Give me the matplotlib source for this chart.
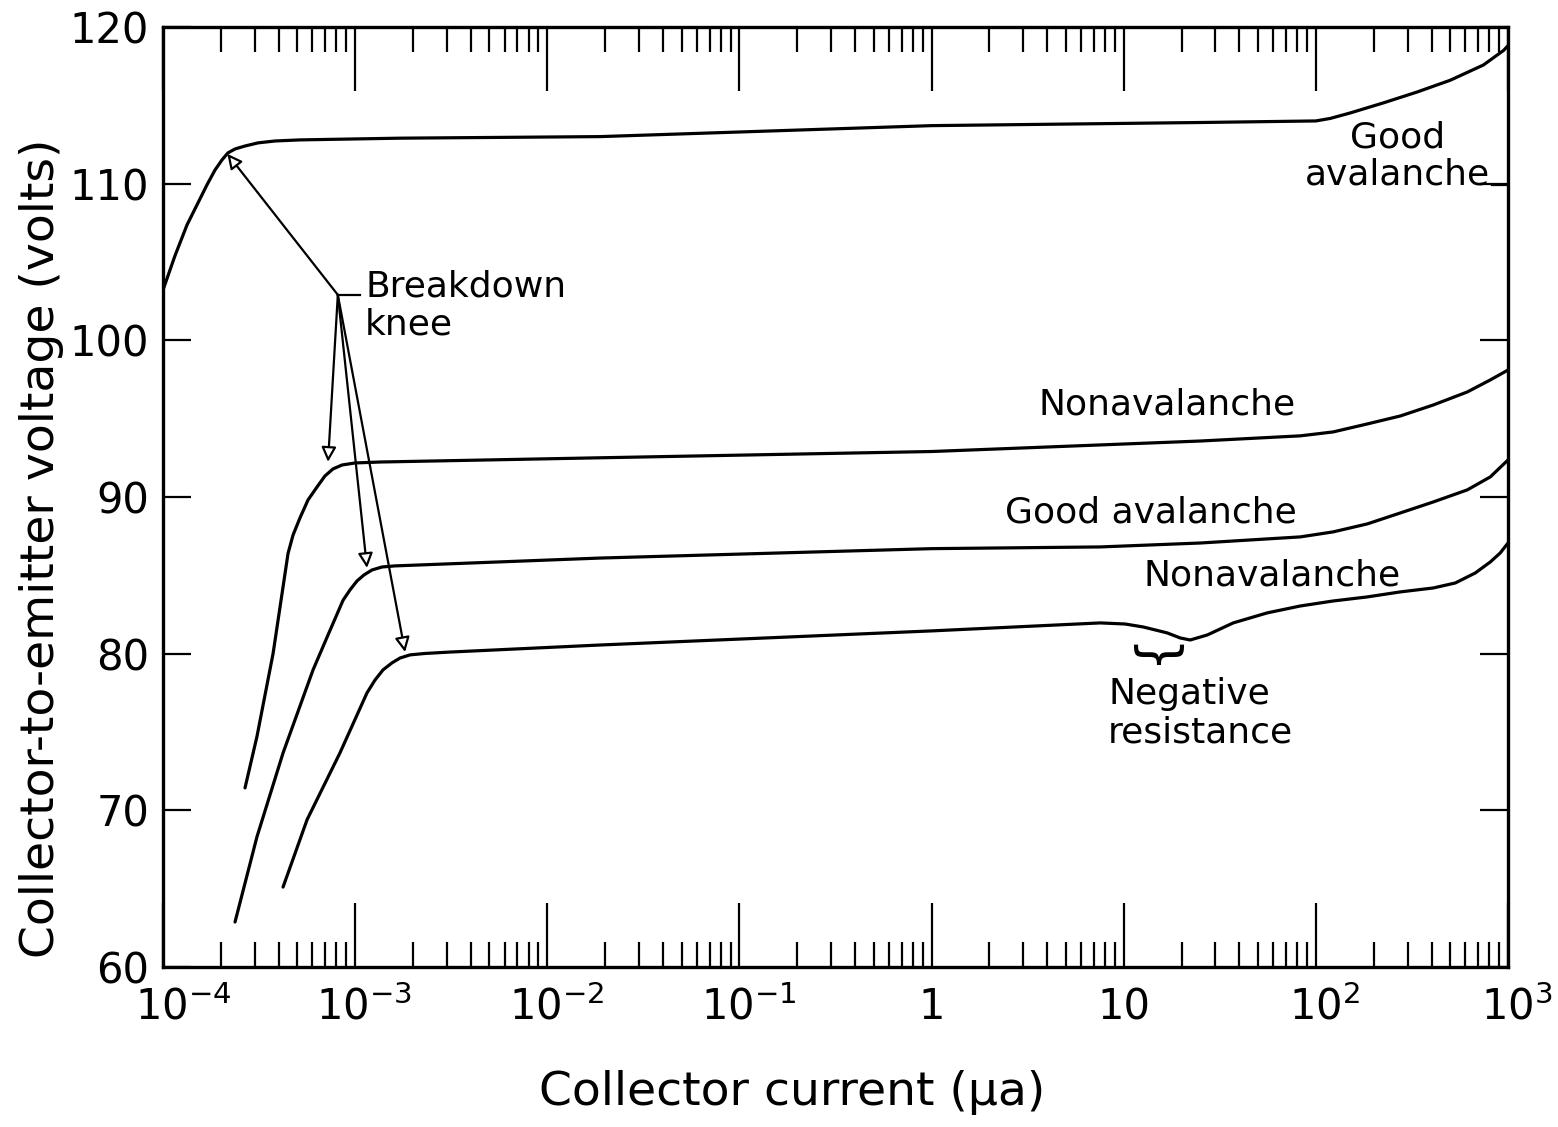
import numpy as np
import matplotlib
matplotlib.use("Agg")
import matplotlib.pyplot as plt
from matplotlib.transforms import ScaledTranslation

plt.rcParams['font.family'] = ['DejaVu Sans']
plt.rcParams['mathtext.default'] = 'regular'

# curves: log10(collector current, uA) and volts
good_top_logi = [-4.0, -3.938, -3.875, -3.823, -3.771, -3.729, -3.693, -3.662, -3.625, -3.573,
                 -3.505, -3.417, -3.287, -2.766, -1.725, 0.0, 1.398, 2.0, 2.075, 2.179,
                 2.351, 2.528, 2.70, 2.872, 2.977, 3.0]
good_top_v = [103.2, 105.38, 107.36, 108.64, 109.92, 110.87, 111.51, 111.96, 112.21, 112.4,
              112.6, 112.72, 112.79, 112.9, 113.0, 113.7, 113.9, 114.0, 114.16, 114.51,
              115.15, 115.85, 116.6, 117.57, 118.5, 118.8]

nonav_hi_logi = [-3.573, -3.511, -3.427, -3.349, -3.323, -3.287, -3.245, -3.198, -3.157, -3.115,
                 -3.068, -3.0, -2.87, -1.725, 0.0, 0.878, 1.398, 1.919, 2.09, 2.268,
                 2.44, 2.611, 2.788, 2.908, 3.0]
nonav_hi_v = [71.43, 74.7, 80.0, 86.4, 87.57, 88.66, 89.81, 90.64, 91.34, 91.79,
              92.04, 92.17, 92.23, 92.5, 92.9, 93.32, 93.57, 93.9, 94.15, 94.66,
              95.17, 95.87, 96.7, 97.47, 98.1]

good_mid_logi = [-3.625, -3.511, -3.375, -3.219, -3.141, -3.063, -3.027, -2.99, -2.954, -2.912,
                 -2.86, -2.792, -2.662, -1.725, 0.0, 0.878, 1.398, 1.919, 2.09, 2.268,
                 2.44, 2.611, 2.788, 2.908, 3.0]
good_mid_v = [62.87, 68.3, 73.66, 78.96, 81.19, 83.4, 84.06, 84.64, 85.02, 85.34,
              85.53, 85.6, 85.66, 86.1, 86.7, 86.81, 87.06, 87.45, 87.77, 88.28,
              88.98, 89.68, 90.45, 91.28, 92.36]

nonav_lo_logi = [-3.375, -3.25, -3.079, -2.938, -2.896, -2.855, -2.808, -2.766, -2.714, -2.636,
                 -2.506, -1.725, 0.0, 0.878, 1.008, 1.102, 1.227, 1.294, 1.346, 1.435,
                 1.57, 1.747, 1.919, 2.09, 2.268, 2.44, 2.611, 2.726, 2.83, 2.908,
                 2.96, 3.0]
nonav_lo_v = [65.1, 69.4, 73.66, 77.5, 78.32, 78.96, 79.41, 79.72, 79.92, 80.01,
              80.1, 80.55, 81.45, 81.96, 81.89, 81.7, 81.32, 81.0, 80.87, 81.19,
              81.96, 82.6, 83.04, 83.36, 83.62, 83.94, 84.19, 84.51, 85.15, 85.85,
              86.43, 87.06]

# breakdown knee pointers (log10 current, volts)
knee_from = (-3.09, 102.9)
knee_tips_logi = [-3.665, -3.141, -2.938, -2.74]
knee_tips_v = [111.9, 92.24, 85.47, 80.1]

yticks = [60, 70, 80, 90, 100, 110, 120]
xtick_exp = [-4, -3, -2, -1, 0, 1, 2, 3]
xtick_labels = ['$10^{-4}$', '$10^{-3}$', '$10^{-2}$', '$10^{-1}$', '1', '10', '$10^{2}$', '$10^{3}$']

fig = plt.figure(figsize=(15.58, 11.27), dpi=100)
ax = fig.add_axes([0.1046, 0.142, 0.8633, 0.8341])

for lx, v in [(good_top_logi, good_top_v), (nonav_hi_logi, nonav_hi_v),
              (good_mid_logi, good_mid_v), (nonav_lo_logi, nonav_lo_v)]:
    ax.plot(10.0 ** np.array(lx), v, color='black', lw=2.3,
            solid_capstyle='round', solid_joinstyle='round')

ax.set_xscale('log')
ax.set_xlim(1e-4, 1e3)
ax.set_ylim(60, 120)

ax.set_xticks([10.0 ** e for e in xtick_exp], xtick_labels)
ax.set_yticks(yticks)
ax.tick_params(axis='x', which='major', direction='in', top=True, bottom=True,
               length=46, width=1.6, labelsize=30, pad=14)
ax.tick_params(axis='x', which='minor', direction='in', top=True, bottom=True,
               length=18, width=1.6)
ax.tick_params(axis='y', which='major', direction='in', left=True, right=True,
               length=20, width=1.6, labelsize=30, pad=10)
for s in ax.spines.values():
    s.set_linewidth(2.4)

# powers of ten sit a bit right of their ticks, as in the original lettering
for lab, txt in zip(ax.get_xticklabels(), xtick_labels):
    if txt.startswith('$'):
        dx = 20 if txt == '$10^{-4}$' else 9
        lab.set_transform(lab.get_transform() + ScaledTranslation(dx / 100, 0, fig.dpi_scale_trans))

ax.set_xlabel('Collector current (μa)', fontsize=34)
ax.xaxis.label.set_va('center')
ax.xaxis.set_label_coords(0.468, -0.134)
ax.set_ylabel('Collector-to-emitter voltage (volts)', fontsize=34)
ax.yaxis.label.set_va('center')
ax.yaxis.set_label_coords(-0.09, 0.445)

fs = 26
# breakdown knee
jx = 10.0 ** knee_from[0]
for lx, v in zip(knee_tips_logi, knee_tips_v):
    ax.annotate('', xy=(10.0 ** lx, v), xytext=(jx, knee_from[1]),
                arrowprops=dict(arrowstyle='-|>', mutation_scale=22, lw=1.6,
                                fc='white', ec='black', shrinkA=0, shrinkB=0))
ax.plot([jx, 10.0 ** -2.974], [knee_from[1], knee_from[1]], color='black', lw=1.6)
ax.text(10.0 ** -2.948, 102.2, 'Breakdown\nknee', fontsize=fs, ha='left', va='center',
        linespacing=1.15)

# curve labels
ax.text(10.0 ** 2.424, 111.77, 'Good\navalanche', fontsize=fs, ha='center', va='center',
        linespacing=1.1)
ax.plot([10.0 ** 2.918, 1e3], [109.9, 109.9], color='black', lw=1.6)
ax.text(10.0 ** 1.227, 95.87, 'Nonavalanche', fontsize=fs, ha='center', va='center')
ax.text(10.0 ** 1.143, 88.98, 'Good avalanche', fontsize=fs, ha='center', va='center')
ax.text(10.0 ** 1.773, 85.0, 'Nonavalanche', fontsize=fs, ha='center', va='center')

# negative resistance
ax.text(10.0 ** 1.138, 79.6, '}', fontsize=38, rotation=-90, ha='center', va='center')
ax.text(10.0 ** 0.919, 76.2, 'Negative\nresistance', fontsize=fs, ha='left', va='center',
        linespacing=1.15)

fig.savefig('out.png', dpi=100)
